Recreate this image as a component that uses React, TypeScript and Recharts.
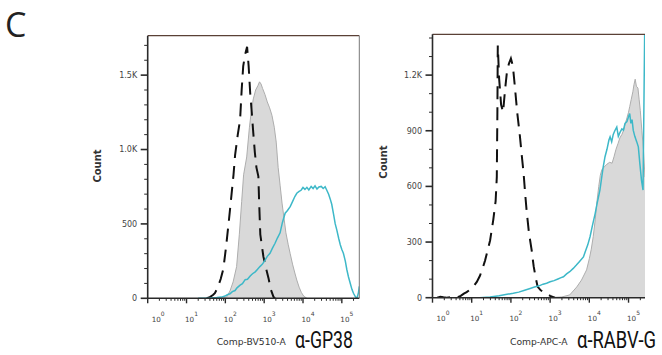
import React from "react";
import { ComposedChart, Area, Line, XAxis, YAxis, ReferenceLine } from "recharts";

// ---------- tick labels ----------
const decadeExponents = ["0", "1", "2", "3", "4", "5"];
const minorMultipliers = [2, 3, 4, 5, 6, 7, 8, 9];

const leftYMajorValues = [0, 500, 1000, 1500];
const leftYMajorLabels = ["0", "500", "1.0K", "1.5K"];
const rightYMajorValues = [0, 300, 600, 900, 1200];
const rightYMajorLabels = ["0", "300", "600", "900", "1.2K"];

// ---------- panel 1 (α-GP38), x in log10 units, y = count ----------
const gp38Isotype: [number, number][] = [
  [1.8, 0], [1.95, 4], [2.04, 10], [2.12, 50], [2.2, 110], [2.29, 213], [2.36, 430],
  [2.42, 650], [2.47, 830], [2.55, 950], [2.62, 1150], [2.67, 1260], [2.72, 1340],
  [2.78, 1400], [2.84, 1430], [2.88, 1455], [2.92, 1440], [2.96, 1410], [3.02, 1370],
  [3.08, 1320], [3.14, 1280], [3.2, 1230], [3.26, 1150], [3.31, 1050], [3.36, 880],
  [3.41, 760], [3.46, 640], [3.5, 560], [3.56, 440], [3.62, 360], [3.67, 300],
  [3.73, 230], [3.79, 170], [3.84, 123], [3.9, 75], [3.96, 38], [4.02, 14], [4.1, 0],
];
const gp38Control: [number, number][] = [
  [1.52, 0], [1.6, 8], [1.68, 22], [1.73, 35], [1.8, 70], [1.88, 130], [1.95, 200],
  [2.02, 350], [2.09, 520], [2.16, 700], [2.21, 830], [2.25, 960], [2.32, 1100],
  [2.38, 1200], [2.42, 1400], [2.46, 1560], [2.51, 1640], [2.56, 1690], [2.6, 1560],
  [2.64, 1380], [2.68, 1250], [2.72, 1110], [2.76, 980], [2.8, 880], [2.85, 820],
  [2.87, 650], [2.9, 430], [2.98, 280], [3.05, 200], [3.11, 137], [3.17, 60],
  [3.24, 9], [3.28, 0],
];
const gp38Sample: [number, number][] = [
  [1.3, 0], [1.6, 2], [1.78, 5], [1.9, 8], [1.99, 15], [2.05, 24], [2.12, 30],
  [2.18, 45], [2.25, 52], [2.3, 70], [2.38, 88], [2.44, 98], [2.51, 125], [2.57, 128],
  [2.64, 150], [2.7, 165], [2.77, 178], [2.83, 196], [2.89, 213], [2.95, 228],
  [3.02, 255], [3.08, 282], [3.15, 303], [3.21, 336], [3.28, 370], [3.34, 405],
  [3.41, 440], [3.47, 510], [3.54, 572], [3.6, 590], [3.67, 616], [3.73, 650],
  [3.79, 684], [3.84, 706], [3.9, 718], [3.95, 726], [4.0, 745], [4.05, 732],
  [4.1, 746], [4.15, 728], [4.21, 752], [4.26, 738], [4.31, 756], [4.36, 734],
  [4.41, 748], [4.47, 752], [4.52, 738], [4.57, 750], [4.61, 728], [4.66, 700],
  [4.7, 668], [4.74, 632], [4.79, 560], [4.83, 500], [4.87, 460], [4.92, 402],
  [4.96, 360], [5.0, 328], [5.04, 303], [5.09, 250], [5.13, 192], [5.17, 145],
  [5.22, 98], [5.26, 60], [5.3, 34], [5.35, 10], [5.39, 0], [5.43, 40], [5.45, 80],
];

// ---------- panel 2 (α-RABV-G) ----------
const rabvIsotype: [number, number][] = [
  [2.9, 0], [3.1, 2], [3.3, 4], [3.5, 15], [3.68, 58], [3.8, 95], [3.93, 150],
  [4.0, 210], [4.05, 262], [4.1, 330], [4.15, 420], [4.19, 510], [4.24, 600],
  [4.28, 660], [4.32, 690], [4.38, 705], [4.45, 720], [4.52, 730], [4.58, 725],
  [4.63, 760], [4.68, 800], [4.73, 830], [4.78, 862], [4.83, 880], [4.87, 900],
  [4.92, 940], [4.96, 970], [5.0, 1000], [5.03, 1030], [5.07, 1070], [5.11, 1110],
  [5.14, 1150], [5.17, 1178], [5.2, 1140], [5.24, 1130], [5.27, 1070], [5.3, 1010],
  [5.34, 900], [5.38, 800], [5.42, 650],
];
const rabvControl: [number, number][] = [
  [0.12, 0], [0.2, 5], [0.28, 2], [0.36, 0], [0.5, 3], [0.62, 0], [0.72, 10],
  [0.8, 22], [0.87, 30], [0.95, 42], [1.05, 62], [1.13, 85], [1.21, 118],
  [1.28, 160], [1.34, 200], [1.4, 250], [1.47, 310], [1.55, 420], [1.61, 520],
  [1.64, 650], [1.655, 1000], [1.665, 1360], [1.7, 1180], [1.75, 1040], [1.8, 1000],
  [1.85, 1120], [1.9, 1220], [1.95, 1262], [2.0, 1290], [2.05, 1250], [2.1, 1140],
  [2.16, 1000], [2.23, 870], [2.28, 760], [2.32, 680], [2.36, 570], [2.4, 470],
  [2.46, 350], [2.53, 255], [2.58, 170], [2.63, 110], [2.68, 60], [2.76, 40],
  [2.87, 28], [3.0, 10], [3.12, 0],
];
const rabvSample: [number, number][] = [
  [1.2, 0], [1.47, 4], [1.7, 10], [1.9, 18], [2.06, 24], [2.2, 30], [2.35, 40],
  [2.49, 50], [2.6, 58], [2.72, 64], [2.82, 73], [2.91, 78], [3.0, 86], [3.1, 92],
  [3.2, 101], [3.28, 108], [3.34, 113], [3.42, 128], [3.5, 140], [3.59, 158],
  [3.67, 176], [3.75, 195], [3.85, 220], [3.9, 250], [3.96, 285], [4.02, 330],
  [4.08, 390], [4.15, 455], [4.2, 510], [4.27, 580], [4.31, 640], [4.35, 700],
  [4.4, 760], [4.45, 800], [4.5, 850], [4.53, 867], [4.57, 840], [4.61, 880],
  [4.65, 900], [4.7, 920], [4.74, 870], [4.78, 890], [4.83, 910], [4.87, 903],
  [4.91, 940], [4.96, 950], [5.0, 975], [5.03, 993], [5.06, 940], [5.09, 960],
  [5.12, 903], [5.16, 870], [5.21, 840], [5.25, 813], [5.29, 720], [5.33, 634],
  [5.37, 580], [5.42, 1600],
];

// ---------- styles ----------
const CYAN = "#3db8c8";
const GRAY_FILL = "#d9d9d9";
const GRAY_STROKE = "#adadad";
const DASH = "#111111";
const AXIS = "#2a2a2a";
const FRAME = "#5a4036";
const TICK_FONT = "DejaVu Sans";
const TITLE_FONT = "Roboto";
const Y_AXIS_W = 40;
const X_AXIS_H = 30;

function mergeSeries(series: Record<string, [number, number][]>) {
  const rows = new Map<number, any>();
  Object.keys(series).forEach((key) => {
    series[key].forEach(([u, v]) => {
      if (!rows.has(u)) rows.set(u, { u });
      rows.get(u)[key] = v;
    });
  });
  return Array.from(rows.values()).sort((a, b) => a.u - b.u);
}

function buildXTicks(max: number) {
  const t: number[] = [];
  decadeExponents.forEach((e) => {
    const d = Number(e);
    if (d <= max) t.push(d);
    minorMultipliers.forEach((m) => {
      const v = d + Math.log10(m);
      if (v <= max) t.push(v);
    });
  });
  return t;
}

function buildYTicks(max: number) {
  const t: number[] = [];
  for (let v = 0; v <= max; v += 100) t.push(v);
  return t;
}

const XTick = (props: any) => {
  const { x, y, payload } = props;
  const v = payload.value;
  const major = Math.abs(v - Math.round(v)) < 1e-9;
  const exp = decadeExponents[Math.round(v)];
  return (
    <g>
      <line x1={x} x2={x} y1={y} y2={y + (major ? 5 : 2.5)} stroke={AXIS} strokeWidth={major ? 1.4 : 1} />
      {major && (
        <text x={x + (v === 0 ? 4 : -1.5)} y={y + 23.3} fontSize={7.2} fontFamily={TICK_FONT} fill="#444" textAnchor="start">
          10
          <tspan dy={-6} fontSize={6}>{exp}</tspan>
        </text>
      )}
    </g>
  );
};

const makeYTick = (values: number[], labels: string[]) => (props: any) => {
  const { x, y, payload } = props;
  const idx = values.indexOf(payload.value);
  const major = idx >= 0;
  return (
    <g>
      <line x1={x - (major ? 7 : 3.5)} x2={x} y1={y} y2={y} stroke={AXIS} strokeWidth={major ? 1.6 : 1} />
      {major && (
        <text x={x - 10.5} y={y + 2.9} fontSize={8} fontFamily={TICK_FONT} fill="#444" textAnchor="end">
          {labels[idx]}
        </text>
      )}
    </g>
  );
};

type PanelProps = {
  data: any[];
  width: number;
  height: number;
  plot: { top: number; right: number; bottom: number; left: number };
  xMax: number;
  yMax: number;
  yValues: number[];
  yLabels: string[];
  rightFrame: boolean;
};

function Panel({ data, width, height, plot, xMax, yMax, yValues, yLabels, rightFrame }: PanelProps) {
  const margin = {
    top: plot.top,
    right: plot.right,
    bottom: plot.bottom - X_AXIS_H,
    left: plot.left - Y_AXIS_W,
  };
  return (
    <ComposedChart width={width} height={height} data={data} margin={margin}>
      <XAxis
        dataKey="u"
        type="number"
        domain={[0, xMax]}
        allowDataOverflow
        ticks={buildXTicks(xMax)}
        interval={0}
        tickSize={0}
        tickMargin={0}
        tickLine={false}
        height={X_AXIS_H}
        axisLine={{ stroke: AXIS, strokeWidth: 1.5 }}
        tick={XTick}
      />
      <YAxis
        type="number"
        domain={[0, yMax]}
        allowDataOverflow
        ticks={buildYTicks(yMax)}
        interval={0}
        tickSize={0}
        tickMargin={0}
        tickLine={false}
        width={Y_AXIS_W}
        axisLine={{ stroke: AXIS, strokeWidth: 1.6 }}
        tick={makeYTick(yValues, yLabels)}
      />
      <Area
        dataKey="iso"
        type="linear"
        connectNulls
        fill={GRAY_FILL}
        fillOpacity={1}
        stroke={GRAY_STROKE}
        strokeWidth={1}
        dot={false}
        activeDot={false}
        isAnimationActive={false}
      />
      <Line
        dataKey="ctrl"
        type="linear"
        connectNulls
        stroke={DASH}
        strokeWidth={2}
        strokeDasharray="13 8"
        dot={false}
        activeDot={false}
        isAnimationActive={false}
      />
      <Line
        dataKey="sample"
        type="linear"
        connectNulls
        stroke={CYAN}
        strokeWidth={1.5}
        dot={false}
        activeDot={false}
        isAnimationActive={false}
      />
      <ReferenceLine y={yMax} stroke={FRAME} strokeWidth={1.3} />
      {rightFrame && <ReferenceLine x={xMax} stroke="#777" strokeWidth={1} />}
    </ComposedChart>
  );
}

const leftData = mergeSeries({ iso: gp38Isotype, ctrl: gp38Control, sample: gp38Sample });
const rightData = mergeSeries({ iso: rabvIsotype, ctrl: rabvControl, sample: rabvSample });

export default function App() {
  return (
    <div style={{ position: "absolute", left: 0, top: 0, width: 662, height: 355, background: "#fff", overflow: "hidden" }}>
      <div style={{ position: "absolute", left: 0, top: 0 }}>
        <Panel
          data={leftData}
          width={380}
          height={355}
          plot={{ top: 35.7, right: 20.7, bottom: 56.7, left: 147.7 }}
          xMax={5.45}
          yMax={1765}
          yValues={leftYMajorValues}
          yLabels={leftYMajorLabels}
          rightFrame={true}
        />
      </div>
      <div style={{ position: "absolute", left: 380, top: 0 }}>
        <Panel
          data={rightData}
          width={282}
          height={355}
          plot={{ top: 34.3, right: 17, bottom: 57.3, left: 52.5 }}
          xMax={5.42}
          yMax={1420}
          yValues={rightYMajorValues}
          yLabels={rightYMajorLabels}
          rightFrame={false}
        />
      </div>
      <svg width={662} height={355} style={{ position: "absolute", left: 0, top: 0, pointerEvents: "none" }}>
        <text x={5} y={36.5} fontSize={34} fontFamily="Open Sans" fill="#222">C</text>
        <text x={100.9} y={166} transform="rotate(-90 100.9 166)" textAnchor="middle" fontSize={10} fontWeight="bold" fontFamily={TICK_FONT} fill="#333">Count</text>
        <text x={387} y={162} transform="rotate(-90 387 162)" textAnchor="middle" fontSize={10} fontWeight="bold" fontFamily={TICK_FONT} fill="#333">Count</text>
        <text x={216.7} y={345} fontSize={9.2} fontFamily={TICK_FONT} fill="#333">Comp-BV510-A</text>
        <g transform="translate(295 347.5) scale(1 1.4)">
          <text x={0} y={0} fontSize={17.5} fontFamily={TITLE_FONT} fill="#111" textLength={58} lengthAdjust="spacingAndGlyphs">α-GP38</text>
        </g>
        <text x={510} y={345} fontSize={9.2} fontFamily={TICK_FONT} fill="#333">Comp-APC-A</text>
        <g transform="translate(577 347.5) scale(1 1.4)">
          <text x={0} y={0} fontSize={17.5} fontFamily={TITLE_FONT} fill="#111" textLength={79} lengthAdjust="spacingAndGlyphs">α-RABV-G</text>
        </g>
      </svg>
    </div>
  );
}
